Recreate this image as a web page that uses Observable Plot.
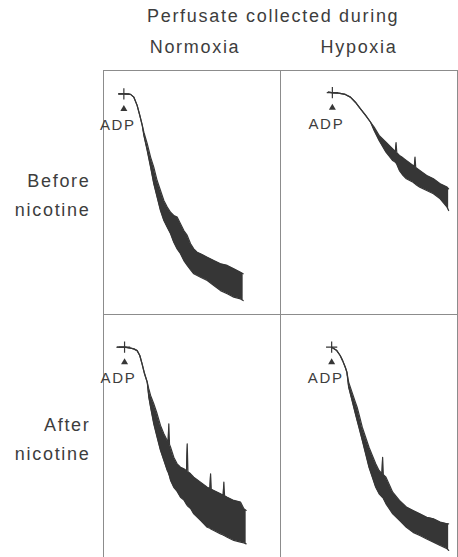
<!DOCTYPE html>
<html><head><meta charset="utf-8">
<script src="https://cdn.jsdelivr.net/npm/d3@7"></script>
<script src="https://cdn.jsdelivr.net/npm/@observablehq/plot@0.6"></script>
<style>
html,body{margin:0;padding:0;background:#fff;overflow:hidden;width:458px;height:557px;}
#title{font-family:"Liberation Sans",Arial,Helvetica,sans-serif;font-size:18px;letter-spacing:1.7px;color:#3d3d3d;height:30px;line-height:20px;padding-top:6px;box-sizing:border-box;padding-left:147px;white-space:nowrap;}
</style></head><body>
<div id="title">Perfusate collected during</div>
<div id="chart"></div>
<script>
const columns = ["Normoxia", "Hypoxia"];
const rows = ["Before nicotine", "After nicotine"];
const adpLabel = "ADP";

// ADP addition per panel: time (% of trace window) and trace level (% deflection)
// order: Normoxia/Before, Hypoxia/Before, Normoxia/After, Hypoxia/After
const adpTime  = [11.5, 29.3, 11.9, 28.9];
const adpLevel = [9.6, 9.1, 13.4, 13.4];

// Normoxia, before nicotine
const tlX     = [8.7, 11.5, 15.3, 17.1, 19.0, 20.5, 21.9, 22.8, 24.7, 26.6, 28.4, 30.3, 32.2, 34.1, 36.0, 37.9, 39.7, 41.6, 43.5, 45.4, 47.3, 49.2, 51.0, 52.9, 54.8, 58.6, 62.3, 66.1, 69.9, 73.6, 77.4, 78.9];
const tlUpper = [9.6, 9.6, 9.8, 10.9, 14.3, 18.4, 22.5, 25.3, 30.0, 35.5, 39.6, 45.1, 49.2, 53.3, 56.0, 58.1, 59.4, 60.1, 62.8, 65.6, 67.6, 71.0, 73.1, 74.5, 75.1, 76.5, 77.9, 79.2, 79.9, 81.3, 82.7, 83.3];
const tlLower = [9.6, 9.6, 9.8, 10.9, 14.3, 18.4, 22.5, 26.6, 32.8, 39.6, 46.4, 51.9, 57.4, 61.5, 64.2, 66.9, 70.4, 73.1, 75.1, 77.9, 79.9, 81.7, 83.3, 84.0, 84.7, 86.1, 88.1, 90.2, 91.5, 92.9, 93.6, 94.3];

// Hypoxia, before nicotine
const trX     = [27.0, 29.9, 32.8, 36.6, 39.5, 42.3, 45.2, 48.1, 50.9, 52.9, 55.7, 59.6, 63.4, 64.9, 65.3, 65.7, 67.2, 69.2, 71.1, 74.9, 75.6, 76.0, 76.4, 78.7, 82.6, 86.4, 90.2, 94.1, 95.0];
const trUpper = [8.9, 9.2, 9.3, 9.8, 10.9, 13.0, 15.7, 18.4, 21.2, 23.2, 26.6, 29.4, 32.1, 33.2, 29.5, 33.7, 34.8, 35.8, 36.9, 38.9, 39.3, 35.5, 39.8, 41.0, 43.0, 44.4, 46.4, 47.8, 48.5];
const trLower = [8.9, 9.2, 9.3, 9.8, 10.9, 13.0, 15.7, 18.4, 21.2, 24.6, 28.7, 33.5, 36.9, 37.6, 38.0, 38.4, 41.0, 43.0, 44.4, 45.8, 46.2, 46.4, 46.7, 47.8, 49.2, 50.5, 52.6, 56.0, 57.4];

// Normoxia, after nicotine
const blX     = [7.7, 11.9, 15.3, 17.1, 19.0, 20.5, 21.8, 23.2, 24.7, 25.6, 26.6, 28.4, 30.3, 32.2, 34.1, 36.0, 36.5, 36.9, 37.3, 37.9, 39.7, 41.6, 43.5, 45.4, 46.9, 47.3, 47.7, 49.2, 51.0, 54.8, 58.6, 60.1, 60.5, 60.9, 62.3, 66.1, 67.6, 68.0, 68.4, 69.9, 73.6, 77.4, 79.3, 80.6];
const blUpper = [13.4, 13.4, 13.8, 14.1, 14.8, 16.8, 20.2, 24.3, 27.7, 30.5, 33.2, 36.6, 40.7, 45.5, 48.9, 51.6, 52.3, 44.8, 53.3, 54.4, 58.5, 61.2, 62.6, 63.2, 64.0, 53.0, 64.4, 65.3, 66.7, 68.7, 70.8, 71.3, 65.3, 71.6, 72.1, 73.5, 74.1, 68.7, 74.3, 74.9, 76.2, 76.9, 79.6, 80.3];
const blLower = [13.4, 13.4, 13.8, 14.1, 14.8, 16.8, 20.2, 24.3, 27.7, 33.9, 38.0, 44.8, 50.3, 55.7, 59.8, 63.9, 64.6, 65.5, 66.3, 68.0, 70.8, 72.5, 74.9, 76.0, 77.8, 78.3, 78.6, 79.5, 81.7, 84.4, 87.2, 87.6, 87.8, 88.0, 88.5, 89.9, 90.4, 90.5, 90.7, 91.3, 92.6, 93.3, 93.6, 94.0];

// Hypoxia, after nicotine
const brX     = [28.9, 31.8, 33.7, 35.1, 36.6, 37.5, 38.5, 40.4, 42.3, 43.3, 44.3, 46.2, 48.1, 50.0, 51.9, 53.8, 55.7, 57.3, 57.7, 58.1, 59.6, 63.4, 67.2, 71.1, 74.9, 78.7, 82.6, 86.4, 90.2, 94.1, 95.0];
const brUpper = [13.4, 14.8, 16.8, 18.9, 21.6, 23.6, 27.7, 31.8, 35.9, 38.0, 40.7, 46.2, 50.3, 54.4, 57.8, 61.2, 63.9, 65.2, 58.5, 65.6, 66.7, 72.8, 76.2, 78.9, 80.3, 81.7, 83.1, 83.7, 85.1, 85.8, 85.8];
const brLower = [13.4, 14.8, 16.8, 18.9, 21.6, 23.6, 29.8, 35.2, 40.7, 43.5, 46.2, 51.6, 57.1, 62.6, 66.7, 70.8, 73.5, 74.7, 75.0, 75.4, 77.6, 81.7, 84.4, 87.2, 89.3, 90.6, 92.0, 93.3, 94.7, 96.0, 96.7];

const panels = [
  {col: columns[0], row: rows[0], x: tlX, upper: tlUpper, lower: tlLower},
  {col: columns[1], row: rows[0], x: trX, upper: trUpper, lower: trLower},
  {col: columns[0], row: rows[1], x: blX, upper: blUpper, lower: blLower},
  {col: columns[1], row: rows[1], x: brX, upper: brUpper, lower: brLower}
];
const trace = panels.flatMap(p => p.x.map((t, i) => ({col: p.col, row: p.row, t, upper: p.upper[i], lower: p.lower[i]})));
const adp = panels.map((p, i) => ({col: p.col, row: p.row, t: adpTime[i], level: adpLevel[i]}));

const ink = "#363636";
const chart = Plot.plot({
  width: 458, height: 528,
  marginTop: 40, marginLeft: 103, marginRight: 1, marginBottom: 0,
  x: {domain: [0, 100], axis: null},
  y: {domain: [0, 100], reverse: true, axis: null},
  fx: {domain: columns, padding: 0},
  fy: {domain: rows, padding: 0},
  style: {fontFamily: "'Liberation Sans', Arial, Helvetica, sans-serif", fontSize: "18px", color: "#3d3d3d", letterSpacing: "1.7px", background: "#fff"},
  marks: [
    Plot.frame({stroke: "#8c8c8c", strokeWidth: 1}),
    Plot.areaY(trace, {x: "t", y1: "upper", y2: "lower", fx: "col", fy: "row", fill: ink}),
    Plot.line(trace, {x: "t", y: "upper", fx: "col", fy: "row", stroke: ink, strokeWidth: 1.2}),
    Plot.line(trace, {x: "t", y: "lower", fx: "col", fy: "row", stroke: ink, strokeWidth: 1.2}),
    Plot.dot(adp, {x: "t", y: "level", fx: "col", fy: "row", symbol: "plus", r: 3.7, stroke: ink, strokeWidth: 1.2}),
    Plot.dot(adp, {x: "t", y: "level", fx: "col", fy: "row", symbol: "triangle", r: 2.6, fill: ink, stroke: null, dy: 15}),
    Plot.text(adp, {x: "t", y: "level", fx: "col", fy: "row", text: () => adpLabel, dy: 31, dx: -6, fontSize: 15}),
    Plot.axisFx({anchor: "top", ticks: [columns[0]], tickSize: 0, tickPadding: 18, label: null, dx: 3}),
    Plot.axisFx({anchor: "top", ticks: [columns[1]], tickSize: 0, tickPadding: 18, label: null, dx: -10}),
    Plot.axisFy({anchor: "left", tickSize: 0, tickPadding: 13, label: null, lineHeight: 1.6, tickFormat: d => d.replace(" ", "\n")})
  ]
});
document.getElementById("chart").appendChild(chart);
</script>
</body></html>
